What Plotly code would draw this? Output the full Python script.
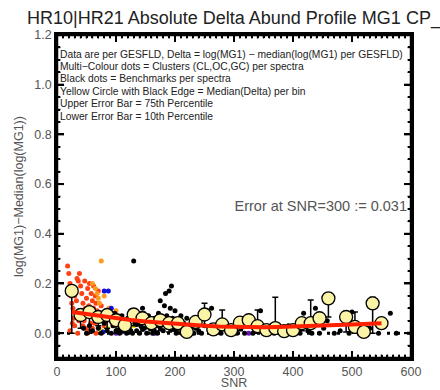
import plotly.graph_objects as go

# ---- Data ----
# Cluster stars (multi-colour dots)
red_snr = [18,20,22,24,25,27,28,30,32,34,36,38,40,42,44,45,46,48,50,52,54,55,57,58,60,62,63,65,66,68,70,72,75,78,80,22,26,35,44,52,60,66,30,40,48,85,90,55,62,47,33,37,43,56,64,71,29,51]
red_val = [0.27,0.24,0.2,0.15,0.12,0.1,0.06,0.03,0.08,0.22,0.21,0.24,0.19,0.16,0.12,0.09,0.05,0.02,0.14,0.18,0.11,0.07,0.04,0.16,0.13,0.1,0.06,0.15,0.12,0.09,0.17,0.05,0.11,0.08,0.03,0.01,0.04,0.0,0.03,0.01,0.02,0.0,0.15,0.06,0.1,0.06,0.1,0.2,0.19,0.21,0.13,0.05,0.07,0.09,0.04,0.02,0.18,0.0]
orange_snr = [75,60,65,70,72,78,85,100,105,110,95,120,88,80,68]
orange_val = [0.29,0.2,0.18,0.14,0.12,0.07,0.05,0.09,0.07,0.04,0.03,0.02,0.1,0.15,0.16]
yellow_snr = [90,95,100,105,110,115,85,120,130,75]
yellow_val = [0.08,0.06,0.04,0.02,0.06,0.01,0.02,0.05,0.03,0.01]
blue_snr = [80,87,92,78]
blue_val = [0.17,0.17,0.1,0.005]
purple_snr = [100,110,165,325,265]
purple_val = [0.0,0.005,0.0,0.0,0.0]

# Benchmarks (black dots)
bench_snr = [45,50,55,60,65,70,75,80,85,90,92,95,98,100,103,106,108,110,112,115,118,120,122,125,128,130,132,135,138,140,142,145,148,150,152,155,158,160,162,165,168,170,172,175,178,180,182,184,186,188,190,192,194,196,198,200,202,205,208,210,212,215,218,220,225,228,232,235,240,245,250,255,258,262,268,272,278,285,290,300,305,312,318,325,332,338,345,350,360,368,380,392,398,405,412,418,425,432,438,445,452,458,470,480,495,500,512,525,530,545,565,575,
             105,115,125,135,145,155,165,175,185,195,205,215,225,140,160,180,200,220,240]
bench_val = [0.02,0.0,0.03,0.01,0.05,0.02,0.0,0.04,0.01,0.06,0.0,0.03,0.08,0.01,0.05,0.0,0.03,0.07,0.01,0.04,0.0,0.06,0.02,0.09,0.0,0.29,0.04,0.01,0.06,0.0,0.03,0.1,0.02,0.05,0.0,0.07,0.02,0.04,0.0,0.06,0.03,0.0,0.08,0.13,0.05,0.01,0.11,0.16,0.07,0.03,0.17,0.1,0.19,0.06,0.02,0.09,0.0,0.05,0.02,0.07,0.0,0.04,0.01,0.06,0.0,0.03,0.0,0.02,0.05,0.0,0.03,0.09,0.01,0.1,0.0,0.03,0.0,0.02,0.0,0.01,0.0,0.02,0.0,0.03,0.0,0.01,0.09,0.0,0.02,0.0,0.0,0.03,0.0,0.02,0.0,0.08,0.01,0.0,0.1,0.0,0.02,0.05,0.0,0.01,0.0,0.085,0.0,0.0,0.02,0.0,0.08,0.0,
             0.015,0.025,0.01,0.035,0.015,0.025,0.01,0.02,0.04,0.015,0.025,0.01,0.02,0.045,0.02,0.035,0.015,0.03,0.01]

# Binned medians with percentiles
bin_snr = [25,40,55,70,85,100,115,130,145,160,175,190,205,220,235,250,265,280,295,310,325,340,355,370,385,400,415,430,445,460,490,505,520,535,550]
bin_med = [0.17,0.073,0.085,0.065,0.073,0.052,0.032,0.075,0.06,0.04,0.052,0.04,0.04,0.005,0.045,0.075,0.015,0.035,0.012,0.042,0.052,0.028,0.012,0.02,0.008,0.012,0.04,0.04,0.06,0.14,0.065,0.025,0.005,0.12,0.04]
bin_p75 = [0.18,0.09,0.1,0.08,0.09,0.07,0.05,0.09,0.085,0.06,0.065,0.05,0.055,0.02,0.06,0.12,0.03,0.093,0.02,0.06,0.07,0.093,0.02,0.145,0.02,0.03,0.055,0.133,0.07,0.15,0.075,0.085,0.015,0.145,0.05]
bin_p10 = [0.0,0.02,0.0,0.03,0.02,0.0,0.01,0.03,0.02,0.01,0.01,0.005,0.005,0.0,0.02,0.03,0.0,0.01,0.0,0.01,0.02,0.0,0.0,0.0,0.0,0.0,0.01,0.0,0.03,0.065,0.005,0.0,0.0,0.0,0.02]

# Fit line
fit_snr = [25,50,75,100,125,150,175,200,225,250,275,300,325,350,375,400,425,450,475,500,525,550]
fit_val = [0.085,0.076,0.068,0.06,0.053,0.047,0.042,0.037,0.033,0.03,0.027,0.025,0.024,0.024,0.025,0.026,0.028,0.031,0.033,0.035,0.038,0.04]

# Axis ranges, tick steps and reference level
x_range = [0, 600]
y_range = [-0.1, 1.2]
x_major, x_minor = 100, 10
y_major, y_minor = 0.2, 0.05
zero_level = 0.0

title_text = "HR10|HR21 Absolute Delta Abund Profile MG1 CP_"
legend_lines = [
    "Data are per GESFLD, Delta = log(MG1) \u2212 median(log(MG1) per GESFLD)",
    "Multi\u2212Colour dots = Clusters (CL,OC,GC) per spectra",
    "Black dots = Benchmarks per spectra",
    "Yellow Circle with Black Edge = Median(Delta) per bin",
    "Upper Error Bar = 75th Percentile",
    "Lower Error Bar = 10th Percentile",
]
error_text = "Error at SNR=300 := 0.031"

# ---- Figure ----
W, H = 440, 390
ml, mr, mt, mb = 57, 29, 35, 32
FONT = "Liberation Sans, Arial"
pw = W - ml - mr
ph = H - mt - mb

def px_to_x(px):
    return x_range[0] + (px - ml) / pw * (x_range[1] - x_range[0])

def px_to_y(py):
    return y_range[1] - (py - mt) / ph * (y_range[1] - y_range[0])

fig = go.Figure()

def dots(x, y, c, s=5):
    fig.add_trace(go.Scatter(x=x, y=y, mode="markers",
                             marker=dict(color=c, size=s, line=dict(width=0)),
                             hoverinfo="skip", showlegend=False))

dots(red_snr, red_val, "#ff4012")
dots(orange_snr, orange_val, "#ff9a20")
dots(yellow_snr, yellow_val, "#f2e000")
dots(blue_snr, blue_val, "#1010e0")
dots(purple_snr, purple_val, "#7010c0")
dots(bench_snr, bench_val, "black", 5)

plus = [p - m for p, m in zip(bin_p75, bin_med)]
minus = [m - p for p, m in zip(bin_p10, bin_med)]
fig.add_trace(go.Scatter(
    x=bin_snr, y=bin_med, mode="markers",
    marker=dict(color="#fbf4a6", size=13, line=dict(color="black", width=1.3)),
    error_y=dict(type="data", symmetric=False, array=plus, arrayminus=minus,
                 color="black", thickness=1.5, width=3),
    hoverinfo="skip", showlegend=False))

fig.add_trace(go.Scatter(x=fit_snr, y=fit_val, mode="lines",
                         line=dict(color="#ff2000", width=4),
                         hoverinfo="skip", showlegend=False))

# Text block (description lines) as a text trace
line_py = [55, 67, 79, 92, 104, 117]
fig.add_trace(go.Scatter(
    x=[px_to_x(60)] * len(legend_lines), y=[px_to_y(p) for p in line_py],
    text=legend_lines, mode="text", textposition="middle right",
    textfont=dict(family=FONT, size=10.3, color="#222"),
    hoverinfo="skip", showlegend=False))
fig.add_trace(go.Scatter(
    x=[px_to_x(407)], y=[px_to_y(207)], text=[error_text], mode="text",
    textposition="middle left",
    textfont=dict(family=FONT, size=14.5, color="#555"),
    hoverinfo="skip", showlegend=False))

axis_common = dict(showline=True, linecolor="#000000", linewidth=2.5, mirror="allticks",
                   ticks="inside", ticklen=7, tickwidth=2, tickcolor="#000000",
                   showgrid=False, zeroline=False, automargin=False,
                   tickfont=dict(family=FONT, size=12.5, color="#555"))

fig.update_xaxes(range=x_range, dtick=x_major, tick0=0,
                 minor=dict(dtick=x_minor, ticklen=3.5, tickwidth=1.5, tickcolor="#000000", ticks="inside"),
                 title=dict(text="SNR", standoff=3, font=dict(family=FONT, size=12.5, color="#555")),
                 **axis_common)
fig.update_yaxes(range=y_range, dtick=y_major, tick0=0, tickformat=".1f",
                 minor=dict(dtick=y_minor, ticklen=3.5, tickwidth=1.5, tickcolor="#000000", ticks="inside"),
                 title=dict(text="log(MG1)\u2212Median(log(MG1))", standoff=8,
                            font=dict(family=FONT, size=12.5, color="#555")),
                 **axis_common)

# ---- Frame and tick marks drawn as shapes (robust fallback) ----
shapes = []
# dotted reference line at zero
shapes.append(dict(type="line", xref="paper", yref="y", x0=0, x1=1, y0=zero_level, y1=zero_level,
                   line=dict(color="black", width=3, dash="3px,7px"), layer="below"))
shapes.append(dict(type="rect", xref="paper", yref="paper", x0=0, x1=1, y0=0, y1=1,
                   line=dict(color="black", width=2.5), fillcolor="rgba(0,0,0,0)", layer="above"))

nx = int(round((x_range[1] - x_range[0]) / x_minor))
per_major_x = int(round(x_major / x_minor))
for k in range(nx + 1):
    v = x_range[0] + k * x_minor
    major = (k % per_major_x == 0)
    L = 7 if major else 3.5
    w = 2 if major else 1.5
    for anchor, sign in ((0, 1), (1, -1)):
        shapes.append(dict(type="line", xref="x", yref="paper", ysizemode="pixel", yanchor=anchor,
                           x0=v, x1=v, y0=0, y1=sign * L,
                           line=dict(color="black", width=w), layer="above"))

k0 = int(round(y_range[0] / y_minor))
k1 = int(round(y_range[1] / y_minor))
per_major_y = int(round(y_major / y_minor))
for k in range(k0, k1 + 1):
    v = k * y_minor
    major = (k % per_major_y == 0)
    L = 7 if major else 3.5
    w = 2 if major else 1.5
    for anchor, sign in ((0, 1), (1, -1)):
        shapes.append(dict(type="line", xref="paper", yref="y", xsizemode="pixel", xanchor=anchor,
                           x0=0, x1=sign * L, y0=v, y1=v,
                           line=dict(color="black", width=w), layer="above"))

fig.update_layout(width=W, height=H, margin=dict(l=ml, r=mr, t=mt, b=mb),
                  paper_bgcolor="white", plot_bgcolor="white", showlegend=False,
                  shapes=shapes,
                  title=dict(text=title_text, xref="container", yref="container",
                             x=27 / W, y=1 - 18 / H, xanchor="left", yanchor="middle",
                             font=dict(family=FONT, size=18, color="#222")))

fig.write_html("out.html")
